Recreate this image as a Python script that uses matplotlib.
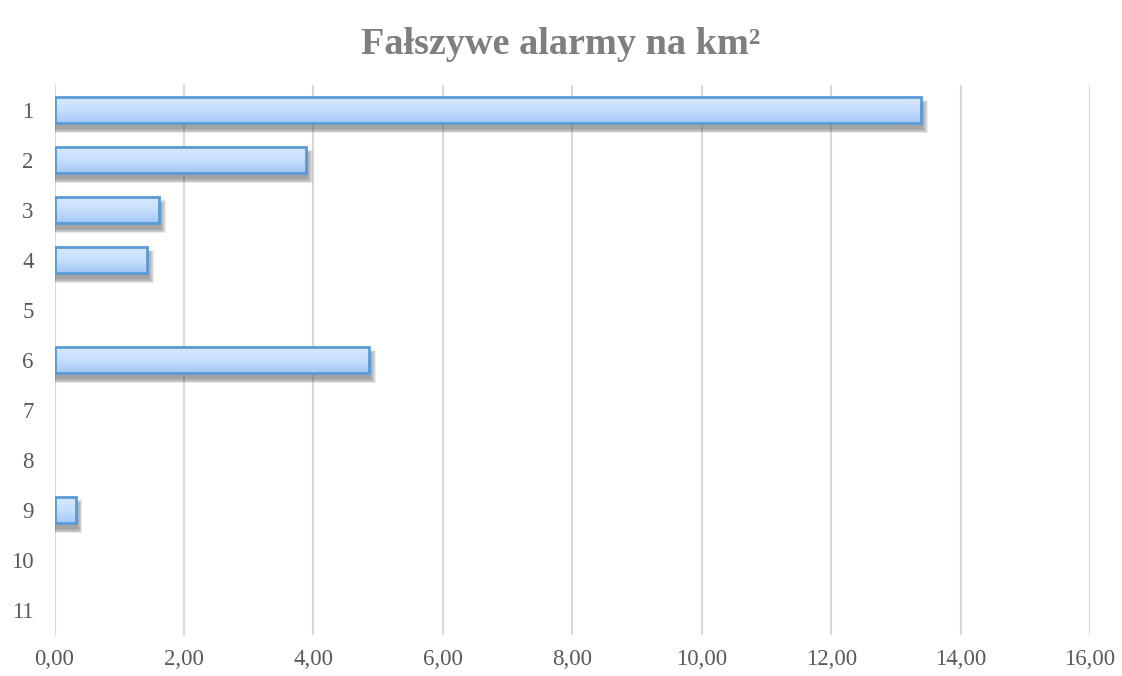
import numpy as np
import matplotlib
matplotlib.use('Agg')
import matplotlib.pyplot as plt
import matplotlib.ticker as tck
from matplotlib.patches import Rectangle
from matplotlib.colors import LinearSegmentedColormap

plt.rcParams['font.family'] = ['Liberation Serif', 'DejaVu Serif']

# data
categories = ['1', '2', '3', '4', '5', '6', '7', '8', '9', '10', '11']
values = [13.39, 3.89, 1.62, 1.43, 0.0, 4.86, 0.0, 0.0, 0.33, 0.0, 0.0]
title = 'Fałszywe alarmy na km²'

bar_h = 0.52
grad = LinearSegmentedColormap.from_list('bar', ['#d8e9fe', '#c6defc', '#a3c7f6'])

fig = plt.figure(figsize=(11.22, 6.76), dpi=100)
ax = fig.add_axes([0.0486, 0.0607, 0.9229, 0.8136])

y = np.arange(1, len(categories) + 1)

for yi, v in zip(y, values):
    if v <= 0:
        continue
    # soft drop shadow: stacked translucent rectangles
    for k in range(6):
        grow = k * 0.014
        ax.add_patch(Rectangle((0.0, yi - bar_h / 2 + 0.13 - grow), v + 0.03 + grow * 1.0,
                               bar_h + 2 * grow, facecolor='#505050', edgecolor='none',
                               alpha=0.11, zorder=2))
    # gradient fill
    g = np.linspace(0, 1, 64).reshape(-1, 1)
    ax.imshow(g, cmap=grad, aspect='auto', interpolation='bicubic',
              extent=(0, v, yi + bar_h / 2, yi - bar_h / 2), origin='upper', zorder=3)
    ax.add_patch(Rectangle((0, yi - bar_h / 2), v, bar_h, facecolor='none',
                           edgecolor='#5b9bd5', linewidth=2.0, zorder=4))

ax.set_xlim(0, 16)
ax.set_ylim(len(categories) + 0.5, 0.5)
ax.set_yticks(y)
ax.set_yticklabels(categories)
ax.xaxis.set_major_locator(tck.MultipleLocator(2))
ax.xaxis.set_major_formatter(tck.FuncFormatter(lambda x, p: ('%.2f' % x).replace('.', ',')))

ax.grid(axis='x', color='#d9d9d9', linewidth=1.5, zorder=0)
ax.set_axisbelow(True)
for s in ax.spines.values():
    s.set_visible(False)
ax.tick_params(length=0, labelsize=16.5, colors='#595959')
ax.tick_params(axis='x', pad=10)
ax.tick_params(axis='y', pad=15)

fig.text(0.5, 0.934, title, ha='center', va='center', fontsize=27.5,
         fontweight='bold', color='#7f7f7f')

plt.savefig('out.png')
